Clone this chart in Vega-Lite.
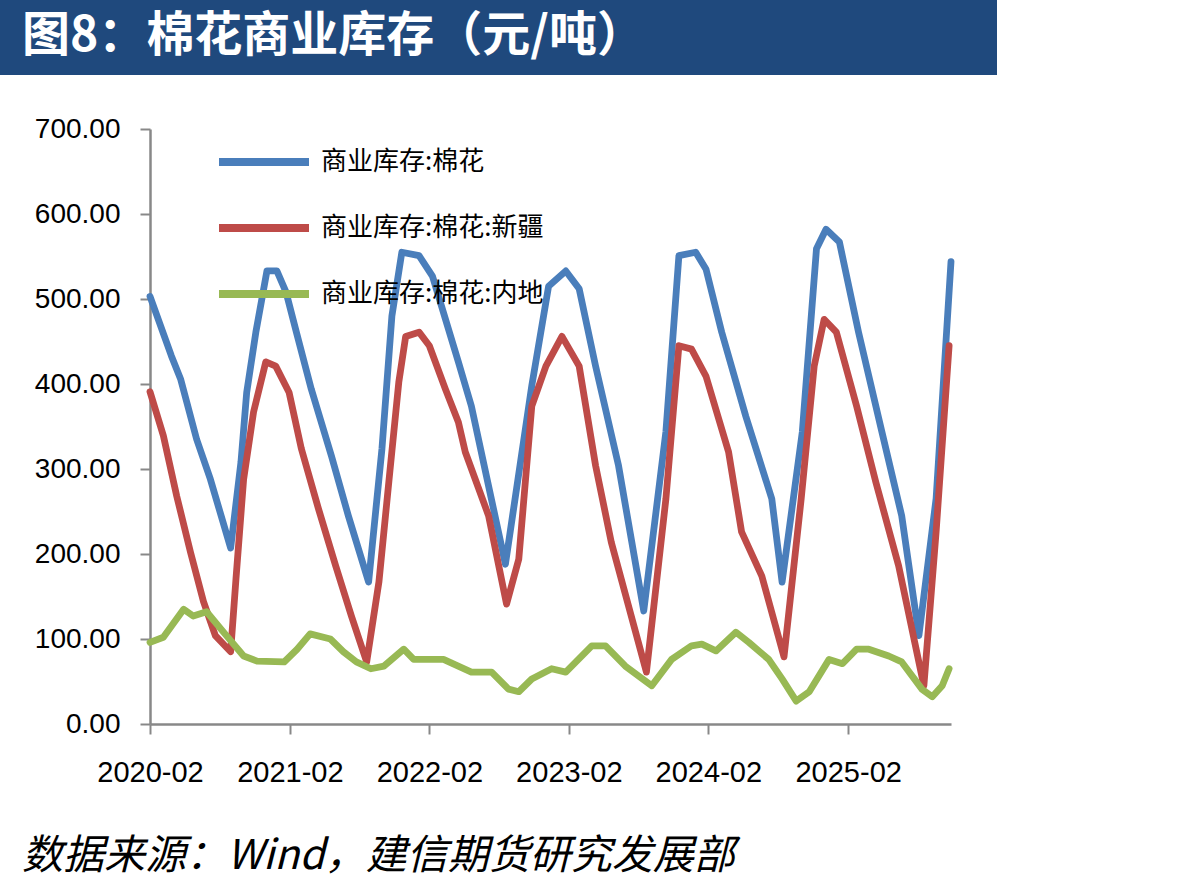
{
  "$schema": "https://vega.github.io/schema/vega-lite/v6.json",
  "padding": 0,
  "background": "#ffffff",
  "spacing": 40,
  "config": {"view": {"stroke": null}},
  "datasets": {
    "header": [{"t": "图8：棉花商业库存（元/吨）"}],
    "footer": [{"t": "数据来源：Wind，建信期货研究发展部"}],
    "inv": [
      {"d": "2020-02-01", "s": "商业库存:棉花", "v": 503},
      {"d": "2020-03-28", "s": "商业库存:棉花", "v": 433},
      {"d": "2020-04-21", "s": "商业库存:棉花", "v": 406},
      {"d": "2020-06-02", "s": "商业库存:棉花", "v": 335},
      {"d": "2020-07-08", "s": "商业库存:棉花", "v": 288},
      {"d": "2020-08-30", "s": "商业库存:棉花", "v": 207},
      {"d": "2020-09-26", "s": "商业库存:棉花", "v": 308},
      {"d": "2020-10-11", "s": "商业库存:棉花", "v": 390},
      {"d": "2020-11-04", "s": "商业库存:棉花", "v": 461},
      {"d": "2020-12-03", "s": "商业库存:棉花", "v": 533},
      {"d": "2020-12-29", "s": "商业库存:棉花", "v": 533},
      {"d": "2021-01-22", "s": "商业库存:棉花", "v": 508},
      {"d": "2021-02-18", "s": "商业库存:棉花", "v": 461},
      {"d": "2021-03-29", "s": "商业库存:棉花", "v": 394},
      {"d": "2021-05-21", "s": "商业库存:棉花", "v": 315},
      {"d": "2021-07-04", "s": "商业库存:棉花", "v": 245},
      {"d": "2021-08-26", "s": "商业库存:棉花", "v": 167},
      {"d": "2021-09-30", "s": "商业库存:棉花", "v": 324},
      {"d": "2021-10-26", "s": "商业库存:棉花", "v": 480},
      {"d": "2021-11-21", "s": "商业库存:棉花", "v": 555},
      {"d": "2022-01-05", "s": "商业库存:棉花", "v": 551},
      {"d": "2022-02-09", "s": "商业库存:棉花", "v": 527},
      {"d": "2022-04-18", "s": "商业库存:棉花", "v": 426},
      {"d": "2022-05-22", "s": "商业库存:棉花", "v": 374},
      {"d": "2022-08-19", "s": "商业库存:棉花", "v": 188},
      {"d": "2022-10-27", "s": "商业库存:棉花", "v": 398},
      {"d": "2022-12-10", "s": "商业库存:棉花", "v": 515},
      {"d": "2023-01-24", "s": "商业库存:棉花", "v": 533},
      {"d": "2023-02-28", "s": "商业库存:棉花", "v": 512},
      {"d": "2023-04-12", "s": "商业库存:棉花", "v": 421},
      {"d": "2023-06-11", "s": "商业库存:棉花", "v": 304},
      {"d": "2023-08-16", "s": "商业库存:棉花", "v": 133},
      {"d": "2023-10-13", "s": "商业库存:棉花", "v": 344},
      {"d": "2023-11-16", "s": "商业库存:棉花", "v": 551},
      {"d": "2023-12-30", "s": "商业库存:棉花", "v": 555},
      {"d": "2024-01-26", "s": "商业库存:棉花", "v": 535},
      {"d": "2024-03-07", "s": "商业库存:棉花", "v": 461},
      {"d": "2024-05-09", "s": "商业库存:棉花", "v": 362},
      {"d": "2024-07-16", "s": "商业库存:棉花", "v": 265},
      {"d": "2024-08-12", "s": "商业库存:棉花", "v": 167},
      {"d": "2024-10-04", "s": "商业库存:棉花", "v": 344},
      {"d": "2024-11-10", "s": "商业库存:棉花", "v": 559},
      {"d": "2024-12-05", "s": "商业库存:棉花", "v": 582},
      {"d": "2025-01-09", "s": "商业库存:棉花", "v": 567},
      {"d": "2025-02-28", "s": "商业库存:棉花", "v": 461},
      {"d": "2025-04-30", "s": "商业库存:棉花", "v": 344},
      {"d": "2025-06-21", "s": "商业库存:棉花", "v": 245},
      {"d": "2025-08-05", "s": "商业库存:棉花", "v": 104},
      {"d": "2025-09-19", "s": "商业库存:棉花", "v": 265},
      {"d": "2025-10-28", "s": "商业库存:棉花", "v": 544},
      {"d": "2020-02-01", "s": "商业库存:棉花:新疆", "v": 391},
      {"d": "2020-03-07", "s": "商业库存:棉花:新疆", "v": 339},
      {"d": "2020-04-11", "s": "商业库存:棉花:新疆", "v": 268},
      {"d": "2020-05-17", "s": "商业库存:棉花:新疆", "v": 202},
      {"d": "2020-06-20", "s": "商业库存:棉花:新疆", "v": 144},
      {"d": "2020-07-21", "s": "商业库存:棉花:新疆", "v": 104},
      {"d": "2020-08-30", "s": "商业库存:棉花:新疆", "v": 85},
      {"d": "2020-09-13", "s": "商业库存:棉花:新疆", "v": 171},
      {"d": "2020-10-03", "s": "商业库存:棉花:新疆", "v": 288},
      {"d": "2020-10-29", "s": "商业库存:棉花:新疆", "v": 367},
      {"d": "2020-11-30", "s": "商业库存:棉花:新疆", "v": 426},
      {"d": "2020-12-26", "s": "商业库存:棉花:新疆", "v": 421},
      {"d": "2021-01-30", "s": "商业库存:棉花:新疆", "v": 390},
      {"d": "2021-03-03", "s": "商业库存:棉花:新疆", "v": 324},
      {"d": "2021-04-17", "s": "商业库存:棉花:新疆", "v": 253},
      {"d": "2021-06-01", "s": "商业库存:棉花:新疆", "v": 186},
      {"d": "2021-07-12", "s": "商业库存:棉花:新疆", "v": 127},
      {"d": "2021-08-21", "s": "商业库存:棉花:新疆", "v": 73},
      {"d": "2021-09-22", "s": "商业库存:棉花:新疆", "v": 167},
      {"d": "2021-10-18", "s": "商业库存:棉花:新疆", "v": 285},
      {"d": "2021-11-13", "s": "商业库存:棉花:新疆", "v": 402},
      {"d": "2021-12-01", "s": "商业库存:棉花:新疆", "v": 456},
      {"d": "2022-01-05", "s": "商业库存:棉花:新疆", "v": 461},
      {"d": "2022-02-01", "s": "商业库存:棉花:新疆", "v": 445},
      {"d": "2022-03-15", "s": "商业库存:棉花:新疆", "v": 394},
      {"d": "2022-04-18", "s": "商业库存:棉花:新疆", "v": 355},
      {"d": "2022-05-06", "s": "商业库存:棉花:新疆", "v": 320},
      {"d": "2022-07-06", "s": "商业库存:棉花:新疆", "v": 245},
      {"d": "2022-08-22", "s": "商业库存:棉花:新疆", "v": 141},
      {"d": "2022-09-23", "s": "商业库存:棉花:新疆", "v": 194},
      {"d": "2022-10-27", "s": "商业库存:棉花:新疆", "v": 374},
      {"d": "2022-12-03", "s": "商业库存:棉花:新疆", "v": 421},
      {"d": "2023-01-14", "s": "商业库存:棉花:新疆", "v": 456},
      {"d": "2023-02-28", "s": "商业库存:棉花:新疆", "v": 421},
      {"d": "2023-04-12", "s": "商业库存:棉花:新疆", "v": 304},
      {"d": "2023-05-23", "s": "商业库存:棉花:新疆", "v": 214},
      {"d": "2023-08-23", "s": "商业库存:棉花:新疆", "v": 61},
      {"d": "2023-10-13", "s": "商业库存:棉花:新疆", "v": 265},
      {"d": "2023-11-16", "s": "商业库存:棉花:新疆", "v": 445},
      {"d": "2023-12-19", "s": "商业库存:棉花:新疆", "v": 441},
      {"d": "2024-01-26", "s": "商业库存:棉花:新疆", "v": 409},
      {"d": "2024-03-25", "s": "商业库存:棉花:新疆", "v": 320},
      {"d": "2024-04-28", "s": "商业库存:棉花:新疆", "v": 226},
      {"d": "2024-06-20", "s": "商业库存:棉花:新疆", "v": 174},
      {"d": "2024-08-17", "s": "商业库存:棉花:新疆", "v": 79},
      {"d": "2024-10-01", "s": "商业库存:棉花:新疆", "v": 265},
      {"d": "2024-11-04", "s": "商业库存:棉花:新疆", "v": 421},
      {"d": "2024-11-30", "s": "商业库存:棉花:新疆", "v": 476},
      {"d": "2025-01-01", "s": "商业库存:棉花:新疆", "v": 461},
      {"d": "2025-02-23", "s": "商业库存:棉花:新疆", "v": 374},
      {"d": "2025-04-14", "s": "商业库存:棉花:新疆", "v": 285},
      {"d": "2025-06-13", "s": "商业库存:棉花:新疆", "v": 186},
      {"d": "2025-08-18", "s": "商业库存:棉花:新疆", "v": 45},
      {"d": "2025-09-19", "s": "商业库存:棉花:新疆", "v": 226},
      {"d": "2025-10-23", "s": "商业库存:棉花:新疆", "v": 445},
      {"d": "2020-02-01", "s": "商业库存:棉花:内地", "v": 96},
      {"d": "2020-03-07", "s": "商业库存:棉花:内地", "v": 102},
      {"d": "2020-04-29", "s": "商业库存:棉花:内地", "v": 135},
      {"d": "2020-05-24", "s": "商业库存:棉花:内地", "v": 127},
      {"d": "2020-06-28", "s": "商业库存:棉花:内地", "v": 132},
      {"d": "2020-08-19", "s": "商业库存:棉花:内地", "v": 104},
      {"d": "2020-10-03", "s": "商业库存:棉花:内地", "v": 80},
      {"d": "2020-11-07", "s": "商业库存:棉花:内地", "v": 74},
      {"d": "2021-01-17", "s": "商业库存:棉花:内地", "v": 73},
      {"d": "2021-02-20", "s": "商业库存:棉花:内地", "v": 88},
      {"d": "2021-03-26", "s": "商业库存:棉花:内地", "v": 106},
      {"d": "2021-05-18", "s": "商业库存:棉花:内地", "v": 100},
      {"d": "2021-06-21", "s": "商业库存:棉花:内地", "v": 85},
      {"d": "2021-07-25", "s": "商业库存:棉花:内地", "v": 73},
      {"d": "2021-09-01", "s": "商业库存:棉花:内地", "v": 65},
      {"d": "2021-10-05", "s": "商业库存:棉花:内地", "v": 68},
      {"d": "2021-11-26", "s": "商业库存:棉花:内地", "v": 88},
      {"d": "2021-12-22", "s": "商业库存:棉花:内地", "v": 76},
      {"d": "2022-03-10", "s": "商业库存:棉花:内地", "v": 76},
      {"d": "2022-05-22", "s": "商业库存:棉花:内地", "v": 61},
      {"d": "2022-07-14", "s": "商业库存:棉花:内地", "v": 61},
      {"d": "2022-08-27", "s": "商业库存:棉花:内地", "v": 41},
      {"d": "2022-09-23", "s": "商业库存:棉花:内地", "v": 38},
      {"d": "2022-10-27", "s": "商业库存:棉花:内地", "v": 53},
      {"d": "2022-12-18", "s": "商业库存:棉花:内地", "v": 65},
      {"d": "2023-01-24", "s": "商业库存:棉花:内地", "v": 61},
      {"d": "2023-04-02", "s": "商业库存:棉花:内地", "v": 92},
      {"d": "2023-05-08", "s": "商业库存:棉花:内地", "v": 92},
      {"d": "2023-06-29", "s": "商业库存:棉花:内地", "v": 68},
      {"d": "2023-09-06", "s": "商业库存:棉花:内地", "v": 45},
      {"d": "2023-10-28", "s": "商业库存:棉花:内地", "v": 76},
      {"d": "2023-12-19", "s": "商业库存:棉花:内地", "v": 92},
      {"d": "2024-01-15", "s": "商业库存:棉花:内地", "v": 94},
      {"d": "2024-02-21", "s": "商业库存:棉花:内地", "v": 86},
      {"d": "2024-04-13", "s": "商业库存:棉花:内地", "v": 108},
      {"d": "2024-05-17", "s": "商业库存:棉花:内地", "v": 96},
      {"d": "2024-07-08", "s": "商业库存:棉花:内地", "v": 76},
      {"d": "2024-08-12", "s": "商业库存:棉花:内地", "v": 53},
      {"d": "2024-09-18", "s": "商业库存:棉花:内地", "v": 27},
      {"d": "2024-10-22", "s": "商业库存:棉花:内地", "v": 38},
      {"d": "2024-12-13", "s": "商业库存:棉花:内地", "v": 76},
      {"d": "2025-01-17", "s": "商业库存:棉花:内地", "v": 71},
      {"d": "2025-02-23", "s": "商业库存:棉花:内地", "v": 88},
      {"d": "2025-03-27", "s": "商业库存:棉花:内地", "v": 88},
      {"d": "2025-05-18", "s": "商业库存:棉花:内地", "v": 80},
      {"d": "2025-06-21", "s": "商业库存:棉花:内地", "v": 73},
      {"d": "2025-08-13", "s": "商业库存:棉花:内地", "v": 41},
      {"d": "2025-09-09", "s": "商业库存:棉花:内地", "v": 32},
      {"d": "2025-10-05", "s": "商业库存:棉花:内地", "v": 45},
      {"d": "2025-10-23", "s": "商业库存:棉花:内地", "v": 65}
    ]
  },
  "vconcat": [
    {
      "width": 997,
      "height": 75,
      "view": {"fill": "#1F497D", "stroke": null},
      "data": {"name": "header"},
      "mark": {"type": "text", "align": "left", "baseline": "middle", "font": "Noto Sans CJK SC", "fontSize": 48, "fontWeight": "bold", "color": "#ffffff"},
      "encoding": {
        "x": {"value": 22},
        "y": {"value": 37},
        "text": {"field": "t", "type": "nominal"}
      }
    },
    {
      "width": 951,
      "height": 595,
      "view": {"stroke": null},
      "data": {"name": "inv"},
      "mark": {"type": "line", "strokeWidth": 6.8, "strokeJoin": "round", "strokeCap": "round", "clip": false},
      "encoding": {
        "x": {
          "field": "d",
          "type": "temporal",
          "scale": {"type": "utc", "domain": [{"year": 2020, "month": 2, "date": 1, "utc": true}, {"year": 2025, "month": 10, "date": 28, "utc": true}], "nice": false, "range": [150, 951]},
          "axis": {
            "title": null,
            "values": [
              {"year": 2020, "month": 2, "date": 1, "utc": true},
              {"year": 2021, "month": 2, "date": 1, "utc": true},
              {"year": 2022, "month": 2, "date": 1, "utc": true},
              {"year": 2023, "month": 2, "date": 1, "utc": true},
              {"year": 2024, "month": 2, "date": 1, "utc": true},
              {"year": 2025, "month": 2, "date": 1, "utc": true}
            ],
            "labelExpr": "utcFormat(datum.value, '%Y-%m')",
            "labelFont": "Liberation Sans",
            "labelFontSize": 29,
            "labelColor": "#000000",
            "labelPadding": 24,
            "labelFlush": false,
            "labelOverlap": false,
            "grid": false,
            "domainColor": "#888888",
            "domainWidth": 2.5,
            "tickColor": "#888888",
            "tickWidth": 2,
            "tickSize": 10
          }
        },
        "y": {
          "field": "v",
          "type": "quantitative",
          "scale": {"domain": [0, 700], "nice": false, "zero": true},
          "axis": {
            "title": null,
            "offset": -150,
            "values": [0, 100, 200, 300, 400, 500, 600, 700],
            "format": ".2f",
            "labelFont": "Liberation Sans",
            "labelFontSize": 28,
            "labelColor": "#000000",
            "labelPadding": 20,
            "grid": false,
            "domainColor": "#888888",
            "domainWidth": 2.5,
            "tickColor": "#888888",
            "tickWidth": 2,
            "tickSize": 10
          }
        },
        "color": {
          "field": "s",
          "type": "nominal",
          "sort": ["商业库存:棉花", "商业库存:棉花:新疆", "商业库存:棉花:内地"],
          "scale": {"domain": ["商业库存:棉花", "商业库存:棉花:新疆", "商业库存:棉花:内地"], "range": ["#4A7EBB", "#BE4B48", "#98B954"]},
          "legend": {
            "title": null,
            "orient": "none",
            "legendX": 215,
            "legendY": 113,
            "direction": "vertical",
            "symbolType": "stroke",
            "symbolSize": 8100,
            "symbolStrokeWidth": 8,
            "labelFont": "Noto Sans CJK SC",
            "labelFontSize": 26,
            "labelColor": "#000000",
            "labelOffset": 8,
            "labelLimit": 600,
            "rowPadding": 1
          }
        }
      }
    },
    {
      "width": 997,
      "height": 60,
      "view": {"stroke": null},
      "data": {"name": "footer"},
      "mark": {"type": "text", "align": "left", "baseline": "middle", "font": "Noto Sans CJK SC", "fontSize": 41, "fontStyle": "italic", "color": "#000000"},
      "encoding": {
        "x": {"value": 22},
        "y": {"value": 30},
        "text": {"field": "t", "type": "nominal"}
      }
    }
  ]
}
